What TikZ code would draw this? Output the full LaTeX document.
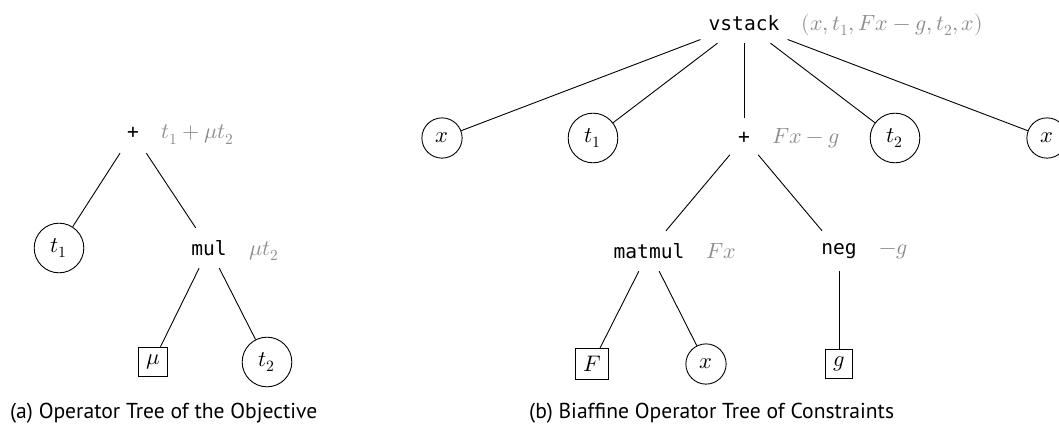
\documentclass[tikz,border=0pt]{standalone}
\usepackage{fontspec}
\usepackage{unicode-math}
\setmathfont{Latin Modern Math}
\newfontfamily\opfont{DejaVu Sans Mono}
\newfontfamily\capfont{PT Sans}
\begin{document}
\begin{tikzpicture}[x=1pt,y=-1pt,
  leaf/.style={circle, draw, line width=0.9pt, inner sep=8.5pt, font=\fontsize{22.5}{26}\selectfont},
  param/.style={rectangle, draw, line width=0.9pt, inner sep=7.5pt, font=\fontsize{22.5}{26}\selectfont},
  op/.style={inner xsep=8pt, inner ysep=0pt, minimum height=40pt, font=\opfont\fontsize{19.6}{24}\selectfont},
  val/.style={inner sep=0pt, text=black!45, font=\fontsize{22}{26}\selectfont, anchor=base west},
  edge/.style={line width=0.9pt},
  captext/.style={font=\capfont\fontsize{21.6}{25}\selectfont, anchor=base west, inner sep=0pt}]
\clip (0,0) rectangle (1059,423);
% ---------- (a) ----------
\node[op] (pA) at (133,133) {+};
\node[val] (vpA) at ([xshift=14pt]pA.base east) {$t_1+\mu t_2$};
\node[leaf] (t1A) at (59,248) {$t_1$};
\node[op] (mulA) at (209,248) {mul};
\node[val] (vmulA) at ([xshift=14pt]mulA.base east) {$\mu t_2$};
\node[param] (muA) at (153,362) {$\mu$};
\node[leaf] (t2A) at (267,362) {$t_2$};
\draw[edge] (pA) -- (t1A);
\draw[edge] (pA) -- (mulA);
\draw[edge] (mulA) -- (muA);
\draw[edge] (mulA) -- (t2A);
\node[captext] (capA) at (10,418) {(a) Operator Tree of the Objective};
% ---------- (b) ----------
\node[op] (vs) at (744,23) {vstack};
\node[val] (vvs) at ([xshift=14pt]vs.base east) {$(x, t_1, Fx-g, t_2, x)$};
\node[leaf] (x1) at (442,138) {$x$};
\node[leaf] (t1B) at (593,138) {$t_1$};
\node[op] (pB) at (744,138) {+};
\node[val] (vpB) at ([xshift=14pt]pB.base east) {$Fx-g$};
\node[leaf] (t2B) at (895,138) {$t_2$};
\node[leaf] (x2) at (1047,138) {$x$};
\node[op] (mm) at (649,251) {matmul};
\node[val] (vmm) at ([xshift=14pt]mm.base east) {$Fx$};
\node[op] (ng) at (839,251) {neg};
\node[val] (vng) at ([xshift=14pt]ng.base east) {$-g$};
\node[param] (F) at (592,364) {$F$};
\node[leaf] (xm) at (706,364) {$x$};
\node[param] (g) at (839,364) {$g$};
\draw[edge] (vs) -- (x1);
\draw[edge] (vs) -- (t1B);
\draw[edge] (vs) -- (pB);
\draw[edge] (vs) -- (t2B);
\draw[edge] (vs) -- (x2);
\draw[edge] (pB) -- (mm);
\draw[edge] (pB) -- (ng);
\draw[edge] (mm) -- (F);
\draw[edge] (mm) -- (xm);
\draw[edge] (ng) -- (g);
\node[captext] (capB) at (529,418) {(b) Biaffine Operator Tree of Constraints};
\end{tikzpicture}
\end{document}
